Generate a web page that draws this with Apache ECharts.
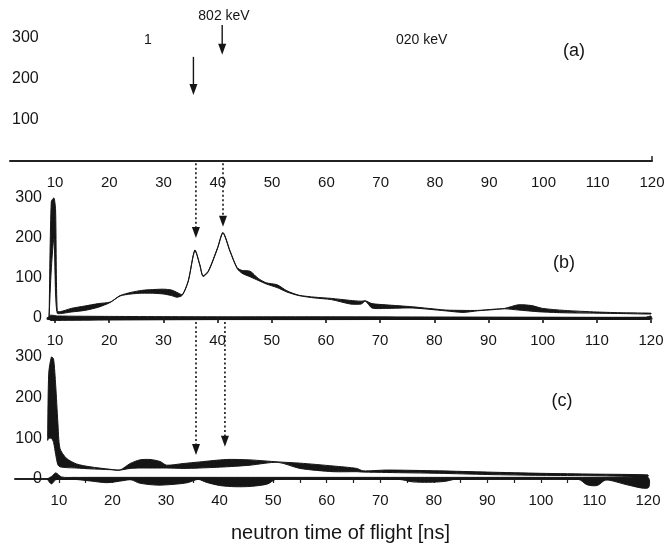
<!DOCTYPE html>
<html><head><meta charset="utf-8">
<script src="https://cdn.jsdelivr.net/npm/echarts@6/dist/echarts.min.js"></script>
<style>html,body{margin:0;padding:0;background:#fff}#c{width:666px;height:543px}</style>
</head><body><div id="c"></div>
<script>
// ---- tick labels ----
const xTickLabels = [10,20,30,40,50,60,70,80,90,100,110,120];
const xMinorTicks = [10,15,20,25,30,35,40,45,50,55,60,65,70,75,80,85,90,95,100,105,110,115,120];
const yTickLabels = [0,100,200,300];
const yTickLabelsA = [100,200,300];

// ---- panel (b): main band (lower / upper envelope) ----
const bX     = [8.9, 9.3, 9.8, 10.1, 10.4, 11, 13, 15.5, 18, 20.2, 22, 24, 26, 28, 30, 31.5, 32.5, 33.5, 34.6, 35.8, 36.7, 37.3, 38.3, 40, 41, 42.3, 43.6, 44.5, 46, 47.5, 49, 51, 52.8, 55, 58, 61, 64.5, 66.5, 67.3, 68.5, 71, 76, 82, 85.3, 88, 91, 93, 95.5, 98, 100, 104, 110, 115, 120];
const bLower = [2, 120, 200, 60, 12, 11, 15, 19, 27, 39, 55, 60, 62, 62, 60, 56, 52, 57, 92, 168, 133, 104, 116, 174, 212, 166, 124, 112, 103, 94, 85, 76, 65, 56, 50, 46, 35, 35, 42, 25, 24, 25, 18, 14, 18, 21, 23, 20, 17, 15, 13, 12, 11, 10];
const bUpper = [2, 290, 300, 270, 18, 16, 24, 30, 36, 40, 56, 64, 69, 71, 72, 70, 64, 59, 94, 170, 135, 106, 118, 176, 214, 168, 126, 119, 117, 99, 88, 83, 68, 57, 52, 49, 44, 42, 43, 36, 33, 28, 20, 19, 19, 22, 24, 33, 31, 24, 19, 15, 13, 12];
// ---- panel (b): band along zero ----
const bZeroX     = [8.6, 9.2, 10.5, 20, 40, 60, 80, 100, 119, 120];
const bZeroLower = [0, -6, -6, -5, -4, -4, -3.5, -3, -3, -2];
const bZeroUpper = [0, 7, 5, 4, 3, 3, 2.5, 2, 2, 5];

// ---- panel (c): main band ----
const cX     = [7.9, 8.1, 8.6, 9.0, 9.4, 9.8, 10.2, 11.4, 13.3, 15.8, 19.5, 21.4, 23.3, 25.1, 27, 28.9, 30.1, 33.2, 36.3, 41.3, 45.7, 50.9, 55, 61.2, 65.6, 66.8, 71.2, 81, 90, 100, 110, 120];
const cLower = [95, 100, 100, 90, 60, 35, 30, 28, 27, 25, 23, 22, 26, 27, 27, 27, 27, 26, 27, 30, 34, 41, 26, 18, 18, 17, 16, 14, 11, 9, 8, 6];
const cUpper = [105, 260, 300, 295, 230, 140, 75, 51, 37, 30, 24, 22, 38, 47, 48, 43, 34, 38, 42, 48, 47, 42, 39, 32, 26, 20, 22, 20, 17, 14, 12, 10];
// ---- panel (c): band along / below zero ----
const cZeroX     = [7.8, 8.6, 9.4, 10.5, 13, 16, 19, 22, 23.5, 25, 28.3, 31.5, 34, 36, 37.5, 40, 43, 46, 49, 50.5, 60, 73.5, 76, 79, 82, 84, 107, 108.6, 110.5, 112, 113.5, 116, 120];
const cZeroLower = [0, -12, -2, -1, -1, -5, -9, -4, -2, -10, -15, -13, -9, -1, -8, -16, -19, -18, -12, -1, -1, -1, -7, -8, -6, -1, -1, -14, -16, -3, -5, -14, -22];
const cZeroUpper = [0, 6, 15, 5, 4, 4, 4, 4, 4, 4, 4, 4, 4, 4, 4, 4, 4, 4, 4, 4, 4, 4, 4, 4, 4, 4, 4, 4, 4, 4, 4, 4, 4];

// ---- annotations ----
const peakLabel = '802 keV';
const otherLabel = '020 keV';
const fragLabel = '1';
const panelLabels = ['(a)', '(b)', '(c)'];
const xAxisTitle = 'neutron time of flight [ns]';

const FONT = '"Liberation Sans", Arial, Helvetica, sans-serif';
const INK = '#151515';

// filled envelope between a lower and an upper curve, drawn through the axes' scales
function band(xs, lo, hi, gi, smooth) {
  const data = xs.map((x, i) => [x, lo[i], hi[i]]);
  return {
    type: 'custom', xAxisIndex: gi, yAxisIndex: gi, data: data,
    encode: { x: 0, y: [1, 2] }, clip: false, silent: true, z: 3, animation: false,
    renderItem: function (params, api) {
      if (params.dataIndex !== 0) return null;
      const up = data.map(d => api.coord([d[0], d[2]]));
      const dn = data.map(d => api.coord([d[0], d[1]])).reverse();
      return {
        type: 'polygon',
        shape: { points: up.concat(dn), smooth: smooth },
        style: { fill: INK, stroke: INK, lineWidth: 1 }
      };
    }
  };
}

const chart = echarts.init(document.getElementById('c'), null, { renderer: 'canvas' });

const xLabelStyle = { fontFamily: FONT, fontSize: 15, color: INK };
const yLabelStyle = { fontFamily: FONT, fontSize: 16, color: INK };

const option = {
  backgroundColor: '#fff',
  animation: false,
  grid: [
    { left: 10, right: 14, top: 38, height: 123, outerBoundsMode: 'none' },
    { left: 48, right: 15, top: 198, height: 120, outerBoundsMode: 'none' },
    { left: 15, right: 18, top: 357, height: 122, outerBoundsMode: 'none' }
  ],
  xAxis: [
    { gridIndex: 0, type: 'value', min: 1.7, max: 120,
      axisLine: { lineStyle: { color: '#222', width: 2 } },
      axisTick: { show: true, customValues: [120], inside: true, length: 5, lineStyle: { color: '#222', width: 1.5 } },
      axisLabel: Object.assign({ customValues: xTickLabels, margin: 14 }, xLabelStyle),
      splitLine: { show: false } },
    { gridIndex: 1, type: 'value', min: 8.7, max: 120,
      axisLine: { lineStyle: { color: '#1a1a1a', width: 3 } },
      axisTick: { show: true, customValues: xTickLabels, length: 5, lineStyle: { color: '#444', width: 2 } },
      axisLabel: Object.assign({ customValues: xTickLabels, margin: 15 }, xLabelStyle),
      splitLine: { show: false } },
    { gridIndex: 2, type: 'value', min: 1.8, max: 120,
      axisLine: { lineStyle: { color: '#222', width: 2 } },
      axisTick: { show: true, customValues: xMinorTicks, length: 4, lineStyle: { color: '#222', width: 1.2 } },
      axisLabel: Object.assign({ customValues: xTickLabels, margin: 14 }, xLabelStyle),
      name: xAxisTitle, nameLocation: 'middle', nameGap: 44,
      nameTextStyle: { fontFamily: FONT, fontSize: 20, color: INK, padding: [0, 0, 0, 18] },
      splitLine: { show: false } }
  ],
  yAxis: [
    { gridIndex: 0, type: 'value', min: 0, max: 300, interval: 100,
      axisLine: { show: false }, axisTick: { show: false }, splitLine: { show: false },
      axisLabel: Object.assign({ inside: true, margin: 2, customValues: yTickLabelsA }, yLabelStyle) },
    { gridIndex: 1, type: 'value', min: 0, max: 300, interval: 100,
      axisLine: { show: false }, axisTick: { show: false }, splitLine: { show: false },
      axisLabel: Object.assign({ margin: 6, customValues: yTickLabels }, yLabelStyle) },
    { gridIndex: 2, type: 'value', min: 0, max: 300, interval: 100,
      axisLine: { show: false }, axisTick: { show: false }, splitLine: { show: false },
      axisLabel: Object.assign({ margin: -27, customValues: yTickLabels }, yLabelStyle) }
  ],
  series: [
    band(bX, bLower, bUpper, 1, 0.25),
    band(bZeroX, bZeroLower, bZeroUpper, 1, 0.2),
    band(cX, cLower, cUpper, 2, 0.25),
    band(cZeroX, cZeroLower, cZeroUpper, 2, 0.3)
  ]
};
chart.setOption(option);

// ---- arrows (positions in data units of each panel) ----
const arrows = [
  { g: 0, x: 35.5, from: 254, to: 161, dash: false },
  { g: 0, x: 40.8, from: 332, to: 259, dash: false },
  { g: 1, x: 36, from: 387, to: 200, dash: true },
  { g: 1, x: 41, from: 387, to: 228, dash: true },
  { g: 2, x: 35.6, from: 386, to: 59, dash: true },
  { g: 2, x: 41, from: 386, to: 79, dash: true }
];
const gfx = [];
arrows.forEach(a => {
  const p1 = chart.convertToPixel({ gridIndex: a.g }, [a.x, a.from]);
  const p2 = chart.convertToPixel({ gridIndex: a.g }, [a.x, a.to]);
  const hx = p2[0], hy = p2[1];
  gfx.push({ type: 'line', silent: true, z: 10,
    shape: { x1: p1[0], y1: p1[1], x2: hx, y2: hy - 8 },
    style: { stroke: INK, lineWidth: a.dash ? 1.6 : 1.4, lineDash: a.dash ? [2, 2.5] : null } });
  gfx.push({ type: 'polygon', silent: true, z: 10,
    shape: { points: [[hx, hy], [hx - 4, hy - 11], [hx + 4, hy - 11]] },
    style: { fill: INK } });
});
function txt(s, x, y, size, align) {
  return { type: 'text', silent: true, z: 10,
    style: { text: s, x: x, y: y, fill: INK, font: size + 'px ' + FONT, textAlign: align || 'center', textVerticalAlign: 'middle' } };
}
gfx.push(txt(peakLabel, 224, 16, 14));
gfx.push(txt(fragLabel, 148, 40, 14));
gfx.push(txt(otherLabel, 396, 40, 14, 'left'));
gfx.push(txt(panelLabels[0], 574, 51, 18));
gfx.push(txt(panelLabels[1], 564, 263, 18));
gfx.push(txt(panelLabels[2], 562, 401, 18));
chart.setOption({ graphic: gfx });
</script>
</body></html>
